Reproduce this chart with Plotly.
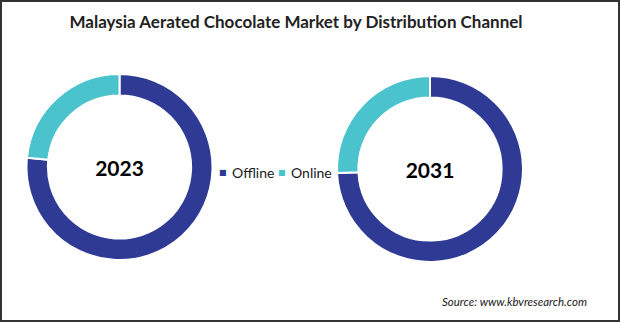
import plotly.graph_objects as go

channels = ["Offline", "Online"]
share_2023 = [76.6, 23.4]
share_2031 = [74.3, 25.7]
years = ["2023", "2031"]
colors = ["#2E3A94", "#4BC3CD"]

W, H = 620, 322
FONT = "Lato"

fig = go.Figure()

def add_donut(values, year, cx, cy, r):
    fig.add_trace(go.Pie(
        labels=channels,
        values=values,
        hole=0.77,
        sort=False,
        direction="clockwise",
        rotation=0,
        textinfo="none",
        hoverinfo="label+percent",
        marker=dict(colors=colors, line=dict(color="white", width=2)),
        domain=dict(x=[(cx - r) / W, (cx + r) / W],
                    y=[(H - cy - r) / H, (H - cy + r) / H]),
        title=dict(text=year, position="middle center",
                   font=dict(family=FONT, size=21, color="black", weight="bold")),
        showlegend=False,
        name=year,
    ))

add_donut(share_2023, years[0], 119.5, 167, 93)
add_donut(share_2031, years[1], 430, 169, 93)

# legend drawn as text entries (small square swatch + label) between the donuts
legend_x = [(223, 230), (281.5, 289)]
legend_y = 172
annotations = []
for (sx, tx), name, col in zip(legend_x, channels, colors):
    annotations.append(dict(text="■", x=sx / W, xanchor="center", y=1 - legend_y / H,
                            yanchor="middle", xref="paper", yref="paper", showarrow=False,
                            font=dict(family="DejaVu Sans", size=8, color=col)))
    annotations.append(dict(text=name, x=tx / W, xanchor="left", y=1 - legend_y / H,
                            yanchor="middle", xref="paper", yref="paper", showarrow=False,
                            font=dict(family=FONT, size=14, color="#1a1a1a")))

annotations.append(dict(text="<i>Source: www.kbvresearch.com</i>", x=589 / W, xanchor="right",
                        y=1 - 301 / H, yanchor="middle", xref="paper", yref="paper",
                        showarrow=False, font=dict(family=FONT, size=11.5, color="#1a1a1a")))

fig.update_layout(
    width=W, height=H,
    margin=dict(l=0, r=0, t=0, b=0),
    paper_bgcolor="white",
    plot_bgcolor="white",
    showlegend=False,
    title=dict(text="<b>Malaysia Aerated Chocolate Market by Distribution Channel</b>",
               x=296 / W, xanchor="center", y=1 - 22 / H, yanchor="middle",
               font=dict(family=FONT, size=17, color="#222222")),
    annotations=annotations,
    shapes=[dict(type="rect", xref="paper", yref="paper",
                 x0=1 / W, x1=1 - 1 / W, y0=1 / H, y1=1 - 1 / H,
                 line=dict(color="#333333", width=2))],
)

fig.write_html("out.html")
